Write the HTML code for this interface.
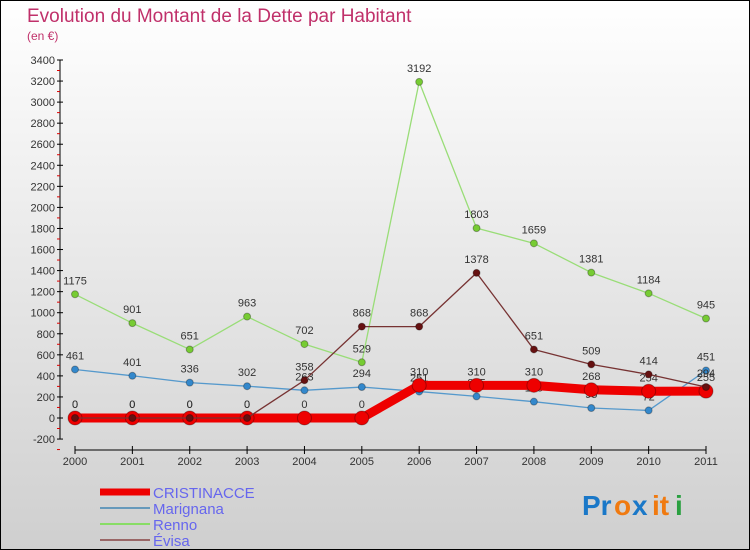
<!DOCTYPE html>
<html><head><meta charset="utf-8"><style>
body{margin:0}
#wrap{width:750px;height:550px;position:relative;overflow:hidden}
svg text{font-family:"Liberation Sans",sans-serif}
</style></head><body>
<div id="wrap">
<svg id="chart" width="750" height="550" xmlns="http://www.w3.org/2000/svg">
<defs><linearGradient id="bg" x1="0" y1="0" x2="0" y2="1"><stop offset="0" stop-color="#ffffff"/><stop offset="1" stop-color="#cfcfcf"/></linearGradient></defs>
<rect x="0.5" y="0.5" width="749" height="549" fill="url(#bg)" stroke="#000"/>
<text x="27" y="22" font-size="19" fill="#c0306a">Evolution du Montant de la Dette par Habitant</text>
<text x="27" y="40" font-size="12" fill="#c0306a">(en €)</text>
<g id="axes"></g><g id="series"></g><g id="legend"></g>
<g font-size="28" font-weight="bold">
<text x="582" y="515" fill="#1a78c8">Pr</text><text x="614" y="515" fill="#f07a10">o</text><text x="632" y="515" fill="#1a78c8">x</text><text x="652" y="515" fill="#f07a10">it</text><text x="675" y="515" fill="#2aa040">i</text>
</g>
</svg></div>
<script>
const years=["2000","2001","2002","2003","2004","2005","2006","2007","2008","2009","2010","2011"];
const yTicks=[-200,0,200,400,600,800,1000,1200,1400,1600,1800,2000,2200,2400,2600,2800,3000,3200,3400];
const cristinacce=[0,0,0,0,0,0,310,310,310,268,254,255];
const marignana=[461,401,336,302,263,294,251,205,155,95,72,451];
const renno=[1175,901,651,963,702,529,3192,1803,1659,1381,1184,945];
const evisa=[0,0,0,0,358,868,868,1378,651,509,414,294];
const NS="http://www.w3.org/2000/svg";
const xS=i=>75+i*(706-75)/11;
const yS=v=>418-v*(418-60)/3400;
function mk(tag,attrs,parent){const e=document.createElementNS(NS,tag);for(const k in attrs)e.setAttribute(k,attrs[k]);parent.appendChild(e);return e;}
const ax=document.getElementById('axes');
let a=mk('line',{x1:60,y1:yS(3400),x2:60,y2:yS(-200),stroke:'#000'},ax);

a=mk('line',{x1:75,y1:450,x2:706,y2:450,stroke:'#000'},ax);

yTicks.forEach(v=>{const y=yS(v);
 mk('line',{x1:57,y1:y,x2:63,y2:y,stroke:'#000'},ax);
 mk('line',{x1:57,y1:y+10.5,x2:60,y2:y+10.5,stroke:'#d00'},ax);
 const t=mk('text',{x:55,y:y+4,'font-size':11,fill:'#333','text-anchor':'end'},ax);t.textContent=v;
 });
years.forEach((yr,i)=>{const x=xS(i);
 mk('line',{x1:x,y1:446,x2:x,y2:454,stroke:'#000'},ax);
 const t=mk('text',{x:x,y:465,'font-size':11,fill:'#333','text-anchor':'middle'},ax);t.textContent=yr;
 });
const sg=document.getElementById('series');
function series(name,data,color,w,r,dot,labels){
 const g=mk('g',{},sg);
 
 const p=mk('polyline',{points:data.map((v,i)=>xS(i)+','+yS(v)).join(' '),fill:'none',stroke:color,'stroke-width':w,'stroke-linejoin':'round'},g);
 
 data.forEach((v,i)=>{const c=mk('circle',{cx:xS(i),cy:yS(v),r:r,fill:dot,stroke:'rgba(0,0,0,0.3)'},g);
  
  if(labels){const t=mk('text',{x:xS(i),y:yS(v)-10,'font-size':11,fill:'#333','text-anchor':'middle'},g);t.textContent=v;
  }});
}
series('renno',renno,'#99dd77',1.3,3.5,'#77cc33',true);
series('marignana',marignana,'#5599cc',1.3,3.5,'#3388cc',true);
series('cristinacce',cristinacce,'#ee0000',9,7,'#ee0000',true);
series('evisa',evisa,'#773333',1.3,3.5,'#661111',true);
const lg=document.getElementById('legend');
[["CRISTINACCE","#ee0000",7],["Marignana","#6699bb",2],["Renno","#88dd66",2],["Évisa","#996666",2]].forEach((d,i)=>{
 const y=492+i*16;const g=mk('g',{},lg);
 
 mk('line',{x1:100,y1:y,x2:150,y2:y,stroke:d[1],'stroke-width':d[2]},g);
 const t=mk('text',{x:153,y:y+6,'font-size':15,fill:'#6666ee'},g);t.textContent=d[0];});
</script>
</body></html>
